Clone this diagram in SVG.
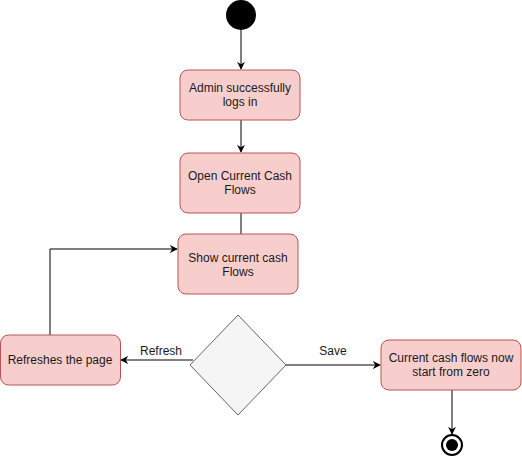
<svg xmlns="http://www.w3.org/2000/svg" width="522" height="457" viewBox="0 0 522 457">
<style>
.box{fill:#f8cecc;stroke:#b85450;stroke-width:1}
.t{font-family:"Liberation Sans",Arial,sans-serif;font-size:12px;fill:#1a1a1a;text-anchor:middle}
.e{fill:none;stroke:#000;stroke-width:1}
</style>
<defs>
<marker id="a" viewBox="0 0 10 10" refX="9" refY="5" markerWidth="8" markerHeight="8" orient="auto" markerUnits="userSpaceOnUse">
<path d="M0,0 L10,5 L0,10 L3,5 Z" fill="#000"/>
</marker>
</defs>
<g id="connectors">
<path class="e" d="M241,30 V69" marker-end="url(#a)"/>
<path class="e" d="M241,120 V152" marker-end="url(#a)"/>
<path class="e" d="M241,213 V234"/>
<path class="e" d="M193,360 H121" marker-end="url(#a)"/>
<path class="e" d="M50,335 V249 H177" marker-end="url(#a)"/>
<path class="e" d="M286,365 H380" marker-end="url(#a)"/>
<path class="e" d="M452,390 V434" marker-end="url(#a)"/>
<text class="t" x="161" y="355">Refresh</text>
<text class="t" x="333" y="355">Save</text>
</g>
<g id="start"><circle cx="241" cy="15" r="15" fill="#000"/></g>
<g id="login"><rect class="box" x="180" y="70" width="120" height="50" rx="8"/>
<text class="t" x="240" y="92">Admin successfully</text><text class="t" x="240" y="106">logs in</text></g>
<g id="open"><rect class="box" x="180" y="153" width="120" height="60" rx="8"/>
<text class="t" x="240" y="180">Open Current Cash</text><text class="t" x="240" y="194">Flows</text></g>
<g id="show"><rect class="box" x="178" y="234" width="120" height="60" rx="8"/>
<text class="t" x="238" y="262">Show current cash</text><text class="t" x="238" y="276">Flows</text></g>
<g id="refresh"><rect class="box" x="0.5" y="335" width="120" height="50" rx="8"/>
<text class="t" x="60" y="364">Refreshes the page</text></g>
<g id="decision"><path d="M238,315 L286,365 L238,415 L190,365 Z" fill="#f5f5f5" stroke="#666"/></g>
<g id="zero"><rect class="box" x="381" y="340" width="140" height="50" rx="8"/>
<text class="t" x="451" y="362">Current cash flows now</text><text class="t" x="451" y="376">start from zero</text></g>
<g id="end"><circle cx="452" cy="445" r="10" fill="#fff" stroke="#000" stroke-width="2"/><circle cx="452" cy="445" r="6" fill="#000"/></g>
</svg>
